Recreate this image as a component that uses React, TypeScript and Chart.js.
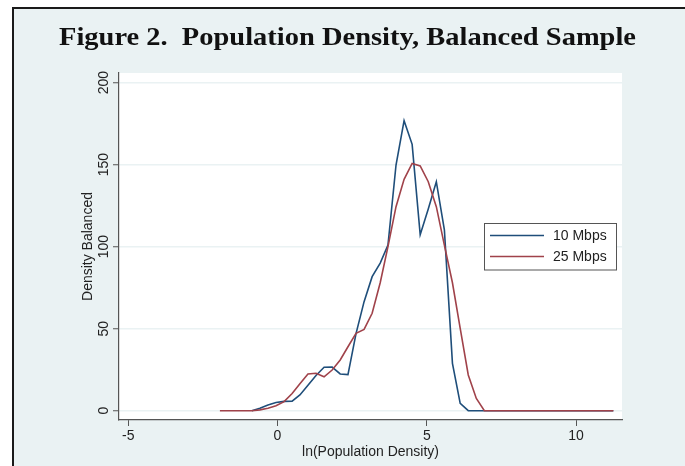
import React, { useEffect, useRef } from "react";
import { Chart, registerables } from "chart.js";

Chart.register(...registerables);

const TITLE = "Figure 2.  Population Density, Balanced Sample";
const X_TITLE = "ln(Population Density)";
const Y_TITLE = "Density Balanced";
const SERIES_NAMES = ["10 Mbps", "25 Mbps"];
const X_TICKS = [-5, 0, 5, 10];
const Y_TICKS = [0, 50, 100, 150, 200];

const mbps10X = [-0.86, -0.59, -0.32, -0.05, 0.22, 0.49, 0.75, 1.02, 1.29, 1.56, 1.83, 2.1, 2.36, 2.63, 2.9, 3.17, 3.44, 3.7, 3.97, 4.24, 4.51, 4.78, 5.05, 5.32, 5.59, 5.86, 6.12, 6.39, 6.93, 11.25];
const mbps10Y = [0, 1.5, 3.5, 5, 5.7, 5.8, 9.6, 15.5, 21.5, 26.5, 26.6, 22.4, 22, 47, 66.5, 81.7, 90, 101, 149.8, 176.8, 162.4, 107.3, 123, 139.6, 110.2, 28.9, 4.5, 0, 0, 0];

const mbps25X = [-1.93, -0.86, -0.59, -0.32, -0.05, 0.22, 0.49, 0.75, 1.02, 1.29, 1.56, 1.83, 2.1, 2.36, 2.63, 2.9, 3.17, 3.44, 3.7, 3.97, 4.24, 4.51, 4.78, 5.05, 5.32, 5.59, 5.86, 6.12, 6.39, 6.66, 6.93, 11.25];
const mbps25Y = [0, 0, 0.5, 1.5, 3, 5.5, 10.5, 16.5, 22.4, 22.8, 20.7, 24.8, 30.9, 39, 47.2, 49.6, 59.4, 78, 100, 124.4, 141.1, 150.8, 149.2, 139.6, 124.4, 101, 78, 50.2, 21.8, 7.5, 0, 0];

const BG = "#eaf2f3";
const BLUE = "#1f4e7a";
const RED = "#a0424a";
const TEXT = "#222222";
const AXIS = "#555555";

const framePlugin = {
  id: "frame",
  beforeDraw(chart: any) {
    const { ctx, width, height, chartArea } = chart;
    ctx.save();
    ctx.fillStyle = "#ffffff";
    ctx.fillRect(0, 0, width, height);
    ctx.fillStyle = BG;
    ctx.fillRect(13, 8, width - 13, height - 8);
    ctx.fillStyle = "#1a1a1a";
    ctx.fillRect(12, 7, width - 12, 2);
    ctx.fillRect(12, 7, 2, height - 7);
    ctx.fillStyle = "#ffffff";
    ctx.fillRect(chartArea.left, chartArea.top, chartArea.right - chartArea.left, chartArea.bottom - chartArea.top);
    ctx.font = 'bold 25px "Liberation Serif"';
    const w = ctx.measureText(TITLE).width;
    ctx.translate(59, 45);
    ctx.scale(577 / w, 1);
    ctx.textAlign = "left";
    ctx.textBaseline = "alphabetic";
    ctx.fillStyle = "#111111";
    ctx.fillText(TITLE, 0, 0);
    ctx.restore();
  },
};

const legendPlugin = {
  id: "boxLegend",
  afterDatasetsDraw(chart: any) {
    const { ctx } = chart;
    ctx.save();
    ctx.fillStyle = "#ffffff";
    ctx.fillRect(484.5, 223.5, 132, 46.5);
    ctx.strokeStyle = AXIS;
    ctx.lineWidth = 1;
    ctx.strokeRect(484.5, 223.5, 132, 46.5);
    const colors = [BLUE, RED];
    const ys = [235.5, 256.5];
    ctx.font = '14px "Liberation Sans"';
    ctx.textAlign = "left";
    ctx.textBaseline = "middle";
    SERIES_NAMES.forEach((name, i) => {
      ctx.strokeStyle = colors[i];
      ctx.lineWidth = 1.6;
      ctx.beginPath();
      ctx.moveTo(490, ys[i]);
      ctx.lineTo(544, ys[i]);
      ctx.stroke();
      ctx.fillStyle = TEXT;
      ctx.fillText(name, 553, ys[i] + 0.5);
    });
    ctx.restore();
  },
};

export default function App() {
  const ref = useRef<HTMLCanvasElement>(null);
  useEffect(() => {
    if (!ref.current) return;
    const tickFont = { family: '"Liberation Sans", Arial, sans-serif', size: 14 };
    const chart = new Chart(ref.current, {
      type: "line",
      data: {
        datasets: [
          {
            label: SERIES_NAMES[0],
            data: mbps10X.map((x, i) => ({ x, y: mbps10Y[i] })),
            borderColor: BLUE,
            borderWidth: 1.6,
            pointRadius: 0,
            tension: 0,
            fill: false,
            order: 1,
          },
          {
            label: SERIES_NAMES[1],
            data: mbps25X.map((x, i) => ({ x, y: mbps25Y[i] })),
            borderColor: RED,
            borderWidth: 1.6,
            pointRadius: 0,
            tension: 0,
            fill: false,
            order: 0,
          },
        ],
      },
      options: {
        responsive: false,
        animation: false,
        layout: { padding: { left: 0, top: 73, right: 63, bottom: 0 } },
        plugins: { legend: { display: false }, tooltip: { enabled: false }, title: { display: false } },
        scales: {
          x: {
            type: "linear",
            min: -5.31,
            max: 11.54,
            afterBuildTicks: (s: any) => {
              s.ticks = X_TICKS.map((v) => ({ value: v }));
            },
            afterFit: (s: any) => {
              s.height = 46;
            },
            grid: { drawOnChartArea: false, drawTicks: true, tickLength: 6, tickColor: AXIS, tickWidth: 1 },
            border: { display: true, color: AXIS, width: 1.2 },
            ticks: { font: tickFont, color: TEXT, padding: 2, maxRotation: 0, autoSkip: false },
            title: { display: true, text: X_TITLE, font: tickFont, color: TEXT, padding: { top: 0, bottom: 5 } },
          },
          y: {
            type: "linear",
            min: -5.67,
            max: 205.9,
            afterBuildTicks: (s: any) => {
              s.ticks = Y_TICKS.map((v) => ({ value: v }));
            },
            afterFit: (s: any) => {
              s.width = 119;
            },
            grid: { color: BG, lineWidth: 1.5, drawTicks: true, tickLength: 6, tickColor: AXIS, tickWidth: 1 },
            border: { display: true, color: AXIS, width: 1.2 },
            ticks: { font: tickFont, color: TEXT, padding: -3, minRotation: 90, maxRotation: 90, crossAlign: "center", autoSkip: false },
            title: { display: true, text: Y_TITLE, font: tickFont, color: TEXT, padding: { top: 80, bottom: 0 } },
          },
        },
      },
      plugins: [framePlugin, legendPlugin],
    } as any);
    return () => chart.destroy();
  }, []);
  return (
    <div style={{ position: "absolute", left: 0, top: 0, width: 685, height: 466 }}>
      <canvas ref={ref} width={685} height={466} style={{ display: "block" }} />
    </div>
  );
}
